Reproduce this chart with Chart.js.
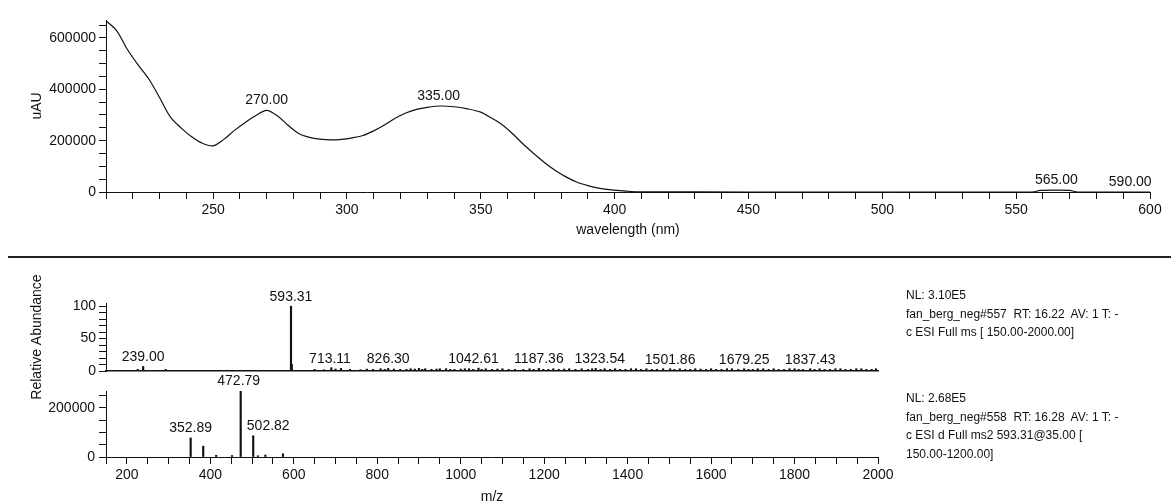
<!DOCTYPE html>
<html>
<head>
<meta charset="utf-8">
<script src="https://cdn.jsdelivr.net/npm/chart.js@4.4.1/dist/chart.umd.min.js"></script>
<style>
  html, body { margin: 0; padding: 0; background: #fff; overflow: hidden; }
  body { width: 1171px; height: 502px; position: relative; font-family: Arial, "Liberation Sans", sans-serif; }
  canvas { position: absolute; left: 0; }
  #uv { top: 0; }
  #ms1 { top: 260px; }
  #ms2 { top: 360px; }
  .rule { position: absolute; left: 8px; top: 256px; width: 1163px; height: 0; border-top: 2px solid #222; }
  .info { position: absolute; left: 906px; font-size: 12px; line-height: 18.5px; color: #111; white-space: pre; }
</style>
</head>
<body>
<canvas id="uv" width="1171" height="257"></canvas>
<div class="rule"></div>
<canvas id="ms1" width="1171" height="150"></canvas>
<canvas id="ms2" width="1171" height="150"></canvas>
<div class="info" style="top:286px">NL: 3.10E5
fan_berg_neg#557  RT: 16.22  AV: 1 T: -
c ESI Full ms [ 150.00-2000.00]</div>
<div class="info" style="top:389px">NL: 2.68E5
fan_berg_neg#558  RT: 16.28  AV: 1 T: -
c ESI d Full ms2 593.31@35.00 [
150.00-1200.00]</div>

<script>
// UV spectrum (wavelength in nm, absorbance in uAU)
const wavelength = [210, 214, 218, 222, 226, 230, 234, 238, 242, 246, 250, 254, 258, 262, 266, 270,
  274, 278, 282, 286, 290, 294, 298, 302, 306, 310, 314, 318, 322, 326, 330, 335, 340, 345, 350,
  354, 358, 362, 366, 370, 374, 378, 382, 386, 390, 394, 398, 402, 406, 410, 450, 500, 556, 559,
  570, 573, 600];
const uau = [667000, 628000, 555000, 495000, 440000, 368000, 293000, 250000, 215000, 190000, 180000,
  205000, 240000, 271000, 298000, 318000, 297000, 260000, 228000, 213000, 206000, 203000, 205000,
  211000, 220000, 238000, 261000, 287000, 308000, 322000, 330000, 335000, 332000, 324000, 311000,
  288000, 262000, 226000, 185000, 148000, 113000, 83000, 58000, 38000, 25000, 15000, 9000, 5000,
  2000, 800, 0, 0, 0, 6000, 6000, 0, 0];
const uvPeakX = [270, 335, 565, 590];
const uvPeakY = [318000, 335000, 6000, 0];
const uvPeakText = ['270.00', '335.00', '565.00', '590.00'];
const uvXLabels = [250, 300, 350, 400, 450, 500, 550, 600];
const uvYLabels = [0, 200000, 400000, 600000];

// Full MS scan (relative abundance)
const ms1Mz = [226, 239.00, 293, 593.31, 595.3, 650, 672, 690, 700, 713.11, 735, 760, 775, 790, 808, 818,
  826.30, 840, 855, 870, 880, 890, 900, 908, 915, 930, 942, 950, 965, 975, 985, 1000, 1010, 1020,
  1030, 1042.61, 1050, 1060, 1075, 1088, 1100, 1115, 1130, 1150, 1165, 1175, 1187.36, 1198, 1210,
  1222, 1235, 1248, 1260, 1275, 1290, 1305, 1315, 1323.54, 1335, 1345, 1358, 1370, 1382, 1395, 1408,
  1420, 1432, 1445, 1458, 1470, 1485, 1501.86, 1512, 1525, 1538, 1550, 1562, 1575, 1588, 1600, 1612,
  1625, 1638, 1650, 1665, 1679.25, 1690, 1700, 1712, 1725, 1738, 1750, 1762, 1775, 1788, 1800, 1810,
  1820, 1837.43, 1848, 1860, 1872, 1885, 1898, 1910, 1922, 1935, 1948, 1960, 1972, 1985, 1995];
const ms1Rel = [2.5, 7, 2.5, 100, 10, 2.5, 2, 5, 3, 4, 2.5, 2, 3, 2.5, 3.5, 2.5,
  4, 3, 2.5, 2.5, 3.5, 3, 4, 2.5, 3.5, 2.5, 3, 3.5, 3.5, 2.5, 2.5, 3, 3.5, 3.5,
  2.5, 4.5, 2.5, 3.5, 2.5, 3, 3.5, 2.5, 2.5, 2.5, 3.5, 2.5, 4, 2.5, 2.5,
  3.5, 2.5, 3, 3.5, 2.5, 3.5, 2.5, 3.5, 4, 2.5, 3.5, 2.5, 3.5, 2.5, 2.5, 3.5,
  3.5, 2.5, 3.5, 2.5, 2.5, 3.5, 3.5, 2.5, 3.5, 2.5, 2.5, 3.5, 3, 2.5, 3.5, 2.5,
  2.5, 3.5, 3.5, 2.5, 3.5, 2.5, 2.5, 3.5, 3.5, 2.5, 3.5, 2.5, 2.5, 3.5, 3.5, 2.5,
  2.5, 3.5, 2.5, 3.5, 2.5, 2.5, 3.5, 3.5, 2.5, 2.5, 3.5, 3.5, 2.5, 2.5, 3.5];
const ms1LabelMz = [239.00, 593.31, 713.11, 826.30, 1042.61, 1187.36, 1323.54, 1501.86, 1679.25, 1837.43];
const ms1YLabels = [0, 50, 100];

// MS2 of 593.31 (absolute intensity)
const ms2Mz = [352.89, 383, 414, 452, 472.79, 502.82, 514, 532, 574];
const ms2Int = [77500, 44000, 7000, 6000, 268000, 86000, 5000, 8000, 13000];
const ms2LabelMz = [352.89, 472.79, 502.82];
const ms2YLabels = [0, 200000];
const msXLabels = [200, 400, 600, 800, 1000, 1200, 1400, 1600, 1800, 2000];

Chart.defaults.font.family = 'Arial, "Liberation Sans", sans-serif';
Chart.defaults.font.size = 14;
Chart.defaults.color = '#111';

const FONT = '14px Arial, "Liberation Sans", sans-serif';

// draws the peak annotations above the marks
const peakLabels = {
  id: 'peakLabels',
  afterDatasetsDraw(chart, args, opts) {
    const { ctx, scales: { x, y } } = chart;
    ctx.save();
    ctx.font = FONT;
    ctx.fillStyle = '#111';
    ctx.textAlign = 'center';
    ctx.textBaseline = 'alphabetic';
    opts.xs.forEach((v, i) => {
      const dx = opts.dx ? opts.dx[i] : 0;
      const top = Math.min(y.getPixelForValue(opts.ys[i]), opts.floor || Infinity);
      ctx.fillText(opts.texts[i], x.getPixelForValue(v) + dx, top - opts.gap);
    });
    ctx.restore();
  }
};

function range(a, b, step) {
  const out = [];
  for (let v = a; v <= b + 1e-9; v += step) out.push(v);
  return out;
}

// replace the auto ticks with a fixed list
function fixedTicks(list) {
  return s => { s.ticks = list.map(v => ({ value: v })); };
}

function axisBase() {
  return {
    grid: { display: true, drawOnChartArea: false, drawTicks: true, tickLength: 7, tickColor: '#111', offset: false },
    border: { display: true, color: '#111', width: 1 },
  };
}

const common = {
  responsive: false,
  animation: false,
  events: [],
  plugins: { legend: { display: false }, tooltip: { enabled: false } },
};

// UV chart
new Chart(document.getElementById('uv'), {
  type: 'line',
  data: {
    datasets: [{
      data: wavelength.map((w, i) => ({ x: w, y: uau[i] })),
      borderColor: '#111', borderWidth: 1.2, pointRadius: 0, tension: 0.3, fill: false, clip: 2
    }]
  },
  plugins: [peakLabels],
  options: {
    ...common,
    layout: { padding: { left: 0, right: 21, top: 20, bottom: 14 } },
    plugins: { ...common.plugins, peakLabels: { xs: uvPeakX, ys: uvPeakY, texts: uvPeakText, gap: 6, dx: [0, -2, 0, 7] } },
    scales: {
      x: {
        ...axisBase(), type: 'linear', min: 210, max: 600, offset: false,
        afterBuildTicks: fixedTicks(range(210, 600, 10)),
        ticks: { autoSkip: false, maxRotation: 0, padding: 3,
          callback: v => uvXLabels.includes(v) ? String(v) : '' },
        title: { display: true, text: 'wavelength (nm)', font: { size: 14 }, padding: { top: 4, bottom: 4 } },
        afterFit: s => { s.height = 51; }
      },
      y: {
        ...axisBase(), type: 'linear', min: 0, max: 670000,
        afterBuildTicks: fixedTicks(range(0, 650000, 50000)),
        ticks: { autoSkip: false, padding: 3,
          callback: v => uvYLabels.includes(v) ? String(v) : '' },
        title: { display: true, text: 'uAU', font: { size: 14 }, padding: { top: 29, bottom: 0 } },
        afterFit: s => { s.width = 106; }
      }
    }
  }
});

// Full MS chart
new Chart(document.getElementById('ms1'), {
  type: 'bar',
  data: {
    datasets: [{
      data: ms1Mz.map((m, i) => ({ x: m, y: ms1Rel[i] })),
      backgroundColor: '#111', borderWidth: 0, barThickness: 1.5
    }]
  },
  plugins: [peakLabels],
  options: {
    ...common,
    layout: { padding: { left: 0, right: 293, top: 43, bottom: 39 } },
    plugins: { ...common.plugins, peakLabels: {
      xs: ms1LabelMz, ys: ms1LabelMz.map(m => ms1Rel[ms1Mz.indexOf(m)]),
      texts: ms1LabelMz.map(m => m.toFixed(2)), gap: 5, floor: 368,
      dx: [0, 0, -11, 0, -5, 0, 4, 0, 0, 0] } },
    scales: {
      x: {
        type: 'linear', min: 150, max: 2000, offset: false,
        grid: { display: false, offset: false },
        border: { display: true, color: '#111', width: 1.5 },
        ticks: { display: false },
        afterFit: s => { s.height = 0; }
      },
      y: {
        ...axisBase(), type: 'linear', min: 0, max: 105,
        afterBuildTicks: fixedTicks(range(0, 100, 10)),
        ticks: { autoSkip: false, padding: 3,
          callback: v => ms1YLabels.includes(v) ? String(v) : '' },
        title: { display: true, text: 'Relative Abundance', font: { size: 14 }, padding: { top: 29, bottom: 0 } },
        afterFit: s => { s.width = 106; }
      }
    }
  }
});

// MS2 chart
new Chart(document.getElementById('ms2'), {
  type: 'bar',
  data: {
    datasets: [{
      data: ms2Mz.map((m, i) => ({ x: m, y: ms2Int[i] })),
      backgroundColor: '#111', borderWidth: 0, barThickness: 1.5
    }]
  },
  plugins: [peakLabels],
  options: {
    ...common,
    layout: { padding: { left: 0, right: 293, top: 31, bottom: 0 } },
    plugins: { ...common.plugins, peakLabels: {
      xs: ms2LabelMz, ys: ms2LabelMz.map(m => ms2Int[ms2Mz.indexOf(m)]),
      texts: ms2LabelMz.map(m => m.toFixed(2)), gap: 6, dx: [0, -2, 15] } },
    scales: {
      x: {
        ...axisBase(), type: 'linear', min: 150, max: 2000, offset: false,
        afterBuildTicks: fixedTicks(range(150, 2000, 50)),
        ticks: { autoSkip: false, maxRotation: 0, padding: 3,
          callback: v => msXLabels.includes(v) ? String(v) : '' },
        title: { display: true, text: 'm/z', font: { size: 14 }, padding: { top: 4, bottom: 4 } },
        afterFit: s => { s.height = 53; }
      },
      y: {
        ...axisBase(), type: 'linear', min: 0, max: 268000,
        afterBuildTicks: fixedTicks(range(0, 250000, 50000)),
        ticks: { autoSkip: false, padding: 4,
          callback: v => ms2YLabels.includes(v) ? String(v) : '' },
        afterFit: s => { s.width = 106; }
      }
    }
  }
});
</script>
</body>
</html>
